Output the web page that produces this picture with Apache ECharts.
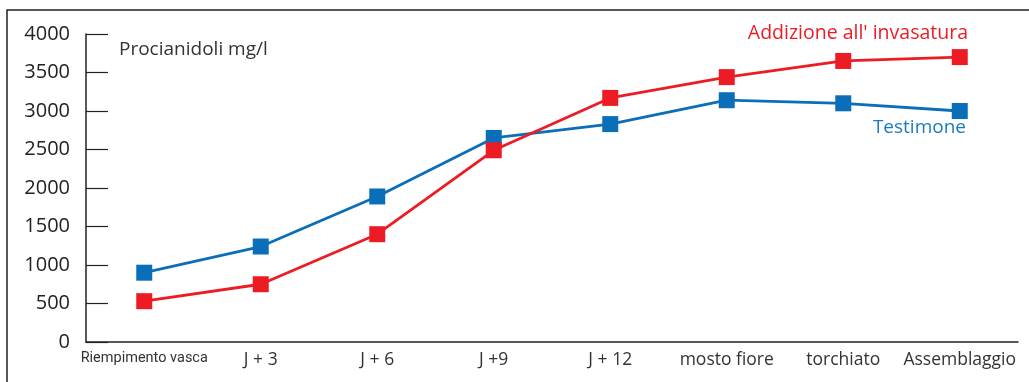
<!DOCTYPE html>
<html><head><meta charset="utf-8">
<script src="https://cdn.jsdelivr.net/npm/echarts@6/dist/echarts.min.js"></script>
<style>html,body{margin:0;padding:0;background:#fff}#c{width:1029px;height:382px}</style>
</head><body><div id="c"></div>
<script>
var categories = ['Riempimento vasca', 'J + 3', 'J + 6', 'J +9', 'J + 12', 'mosto fiore', 'torchiato', 'Assemblaggio'];
var testimone = [900, 1240, 1890, 2650, 2830, 3140, 3100, 3000];
var addizione = [530, 750, 1400, 2490, 3170, 3440, 3650, 3700];
var yTicks = [0, 4000, 500];
var FONT = 'Open Sans';
var chart = echarts.init(document.getElementById('c'), null, {renderer: 'canvas'});
chart.setOption({
  animation: false,
  grid: {left: 86, right: 11, top: 34, bottom: 40},
  title: {text: 'Procianidoli mg/l', left: 114, top: 35, textStyle: {fontFamily: FONT, fontSize: 19, fontWeight: 'normal', color: '#333'}},
  xAxis: {
    type: 'category', data: categories, boundaryGap: true,
    axisLine: {lineStyle: {color: '#222', width: 1.5}},
    axisTick: {inside: true, length: 8, interval: 0, lineStyle: {color: '#222', width: 1.2}},
    axisLabel: {margin: 9, interval: 0, color: '#333', fontFamily: FONT, fontSize: 17.5,
      rich: {s: {fontFamily: 'Roboto', fontSize: 14.5, color: '#333'}},
      formatter: function (v, i) { return i === 0 ? '{s|' + v + '}' : v; }}
  },
  yAxis: {
    type: 'value', min: yTicks[0], max: yTicks[1], interval: yTicks[2],
    axisLine: {show: true, lineStyle: {color: '#222', width: 1.5}},
    axisTick: {show: true, inside: true, length: 22, lineStyle: {color: '#222', width: 1.2}},
    splitLine: {show: false},
    axisLabel: {margin: 16, color: '#222', fontFamily: FONT, fontSize: 20, padding: [12, 0, 0, 0],
      formatter: function (v) { return String(v); }}
  },
  series: [
    {name: 'Testimone', type: 'line', data: testimone, symbol: 'rect', symbolSize: 16,
      lineStyle: {color: '#0a6fb8', width: 2.8}, itemStyle: {color: '#0a6fb8'}, z: 3},
    {name: "Addizione all' invasatura", type: 'line', data: addizione, symbol: 'rect', symbolSize: 16,
      lineStyle: {color: '#ed1c24', width: 2.8}, itemStyle: {color: '#ed1c24'}, z: 4}
  ],
  graphic: [
    {type: 'polyline', shape: {points: [[7, 382], [7, 10], [1029, 10]]}, style: {stroke: '#222', lineWidth: 1.5, fill: null}},
    {type: 'text', right: 61, top: 23, style: {text: "Addizione all' invasatura", fill: '#ed1c24', font: '19.5px "Open Sans"'}},
    {type: 'text', right: 63, top: 118, style: {text: 'Testimone', fill: '#1a7bc4', font: '19px "Open Sans"'}}
  ]
});
</script></body></html>
